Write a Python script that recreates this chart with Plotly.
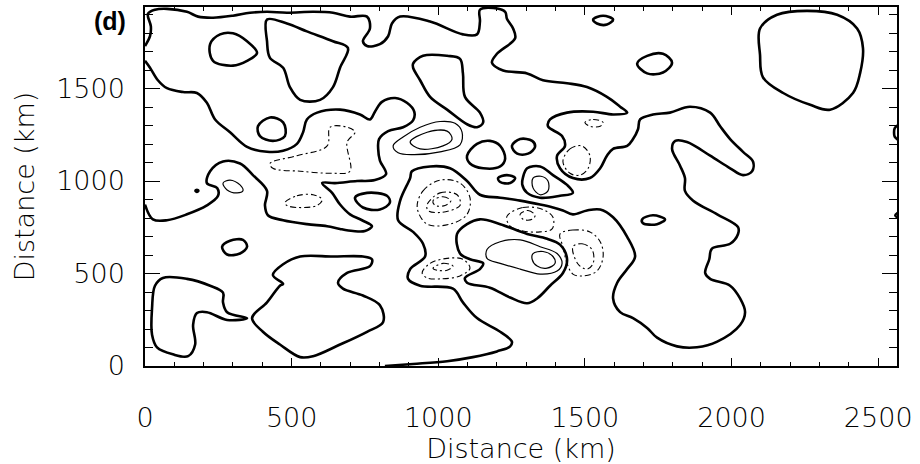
import plotly.graph_objects as go

# ---- contour polylines (km) ----
# thick solid contours (zero level)
A_x = [0,17,20,10,34,75,143,181,232,300,358,416,484,573,641,699,757,767,743,757,801,829,842,870,972,1084,1132,1142,1142,1187,1228,1234,1255,1262,1200,1183,1221,1303,1357,1439,1507,1575,1620,1644,1596,1528,1439,1381,1374,1422,1432,1405,1415,1459,1517,1552,1575,1596,1644,1664,1681,1688,1732,1790,1858,1927,1961,1995,2039,2073,2070,2039,1995,1927,1848,1808,1797,1824,1841,1841,1869,1951,2022,2022,1995,1933,1924,1910,1927,1995,2029,2046,2029,1951,1882,1814,1746,1712,1664,1620,1596,1610,1644,1671,1644,1596,1552,1507,1459,1425,1391,1347,1279,1211,1142,1098,1040,972,910,904,870,863,914,948,955,904,897,938,1050,1084,1132,1211,1251,1245,1200,1118,1030,914,818]
A_y = [1730,1783,1836,1904,1926,1931,1915,1889,1883,1894,1910,1915,1910,1915,1910,1889,1889,1825,1756,1730,1740,1783,1852,1889,1862,1793,1793,1862,1926,1936,1915,1878,1825,1772,1688,1640,1598,1582,1545,1529,1508,1455,1402,1370,1360,1375,1370,1333,1296,1243,1190,1137,1069,1016,1016,1069,1137,1174,1190,1227,1280,1333,1360,1370,1402,1370,1296,1227,1158,1106,1053,1032,1069,1137,1211,1217,1174,1084,1016,947,894,820,751,714,661,635,577,503,471,434,365,291,222,132,101,106,153,206,259,291,365,450,524,592,698,804,846,841,820,841,857,873,894,910,926,1000,1069,1079,1053,1016,894,788,725,661,592,524,471,434,418,344,259,185,132,106,79,48,26,11,0]

B_x = [0,17,44,75,130,177,211,239,290,348,416,471,518,539,552,587,665,733,767,784,808,853,893,918,914,880,829,798,795,801,822,784,723,648,604,638,665,699,740,774,750,709,665,621,552,471,419,409,416,368,324,266,222,211,246,249,211,143,75,27,0]
B_y = [1650,1613,1545,1502,1481,1476,1423,1333,1264,1185,1158,1164,1201,1264,1333,1370,1386,1360,1333,1375,1428,1449,1423,1375,1328,1291,1270,1227,1174,1111,1037,1005,1000,989,989,936,873,820,788,756,730,730,741,756,767,788,815,868,947,1032,1095,1106,1053,989,963,920,868,820,788,793,873]

L1_x = [348,280,266,266,222,143,61,34,24,24,41,95,147,171,164,177,211,280,348]
L1_y = [259,291,344,397,434,471,476,434,312,169,101,63,53,116,222,286,291,249,259]

L2_x = [365,402,460,529,573,665,757,812,801,743,675,658,689,767,774,743,641,529,471,436,471,460,416,365]
L2_y = [259,185,116,48,53,116,185,238,328,381,418,450,503,540,577,592,592,592,550,492,444,434,344,259]

TONGUE_x = [914,948,1030,1074,1084,1091,1142,1153,1132,1098,1030,972,938,914,914]
TONGUE_y = [1635,1677,1677,1661,1582,1455,1370,1317,1291,1307,1386,1455,1545,1613,1635]

S1_x = [222,256,300,348,382,348,300,232,222]
S1_y = [1740,1793,1799,1756,1693,1650,1624,1650,1740]

S2_x = [416,484,552,641,692,665,641,597,529,494,471,426,416,416]
S2_y = [1873,1852,1809,1756,1719,1613,1508,1439,1439,1508,1613,1666,1756,1873]

E1_x = [385,426,471,477,436,392,385]
E1_y = [1296,1344,1317,1243,1217,1243,1296]

E3_x = [263,290,334,348,324,280,263]
E3_y = [645,677,682,645,608,603,645]

E4_x = [716,757,825,835,801,743,716]
E4_y = [910,936,920,883,846,857,910]

DOT_x = [172,177,182,177,172]
DOT_y = [947,953,947,941,947]

P_x = [1064,1098,1142,1211,1303,1371,1415,1439,1425,1381,1337,1303,1245,1176,1098,1091,1142,1153,1108,1074,1064]
P_y = [714,767,793,767,714,688,656,577,503,434,365,339,370,423,450,476,524,555,577,608,714]

Q_x = [1289,1303,1347,1391,1439,1459,1415,1347,1303,1286,1289]
Q_y = [1021,1069,1079,1032,979,936,920,910,936,983,1021]

L3_x = [1098,1132,1176,1211,1228,1211,1153,1108,1098]
L3_y = [1137,1201,1217,1190,1121,1079,1069,1095,1137]

L4_x = [1251,1279,1320,1330,1306,1269,1251]
L4_y = [1190,1227,1217,1185,1148,1148,1190]

E5_x = [1204,1234,1262,1245,1211,1204]
E5_y = [1016,1032,1016,989,995,1016]

E6_x = [1678,1712,1766,1797,1766,1712,1678]
E6_y = [1635,1677,1688,1640,1587,1582,1635]

E7_x = [1528,1562,1596,1575,1541,1528]
E7_y = [1873,1894,1873,1846,1852,1873]

E8_x = [1695,1732,1773,1746,1698,1695]
E8_y = [793,815,793,767,772,793]

R_x = [2097,2155,2257,2360,2428,2448,2438,2414,2336,2268,2176,2107,2097,2097]
R_y = [1825,1899,1920,1899,1825,1719,1582,1476,1386,1412,1476,1561,1682,1825]

RB1_x = [2570,2556,2554,2556,2570]
RB1_y = [1305,1285,1262,1240,1220]

RB2_x = [2570,2558,2570]
RB2_y = [832,815,798]

# thin solid contours (positive levels)
E2_x = [266,290,324,334,314,280,266]
E2_y = [989,1005,979,947,936,952,989]

T1_x = [846,880,938,1006,1057,1081,1074,1006,914,863,846]
T1_y = [1190,1238,1291,1322,1312,1264,1196,1158,1143,1153,1190]

T2_x = [904,962,1030,1047,1016,938,904]
T2_y = [1211,1264,1270,1227,1190,1174,1211]

QI_x = [1323,1350,1374,1374,1347,1323,1323]
QI_y = [1016,1026,1000,947,926,963,1016]

P1_x = [1166,1211,1279,1347,1405,1422,1405,1347,1279,1211,1166,1166]
P1_y = [630,672,682,645,608,555,513,497,524,555,582,630]

P2_x = [1323,1357,1391,1398,1371,1337,1320,1323]
P2_y = [608,619,592,555,529,540,577,608]

# dash-dot contours (negative levels)
D1_x = [426,518,621,631,689,716,689,699,641,529,436,426]
D1_y = [1095,1137,1190,1291,1291,1264,1211,1053,1042,1053,1069,1095]

D2_x = [477,518,573,604,587,518,484,477]
D2_y = [883,920,926,899,868,857,868,883]

N1a_x = [928,948,1006,1074,1108,1098,1040,962,928]
N1a_y = [857,947,1005,989,910,820,767,767,857]
N1b_x = [962,1006,1064,1074,1006,965,962]
N1b_y = [873,936,926,868,830,841,873]
N1c_x = [982,1016,1043,1023,989,982]
N1c_y = [894,915,894,868,868,894]

N2a_x = [945,972,1030,1084,1108,1074,1006,962,945]
N2a_y = [503,555,582,577,529,487,471,476,503]
N2b_x = [982,1016,1050,1030,996,982]
N2b_y = [529,555,540,518,518,529]

N3a_x = [1415,1459,1517,1552,1562,1541,1494,1459,1439,1425,1415]
N3a_y = [714,735,725,672,592,513,487,497,555,645,714]
N3b_x = [1459,1490,1524,1528,1507,1477,1459]
N3b_y = [645,661,630,555,524,550,645]

N4a_x = [1234,1289,1357,1391,1388,1347,1289,1245,1234]
N4a_y = [809,857,846,804,741,725,730,756,809]
N4b_x = [1279,1306,1330,1320,1289,1279]
N4b_y = [820,841,815,793,793,820]

D3_x = [1500,1528,1562,1552,1517,1500]
D3_y = [1317,1333,1317,1296,1296,1317]

D4_x = [1425,1449,1490,1517,1511,1483,1449,1425]
D4_y = [1106,1174,1190,1137,1069,1032,1042,1106]

thick = [(A_x, A_y), (B_x, B_y), (L1_x, L1_y), (L2_x, L2_y), (TONGUE_x, TONGUE_y),
         (S1_x, S1_y), (S2_x, S2_y), (E1_x, E1_y), (E3_x, E3_y), (E4_x, E4_y),
         (DOT_x, DOT_y), (P_x, P_y), (Q_x, Q_y), (L3_x, L3_y), (L4_x, L4_y),
         (E5_x, E5_y), (E6_x, E6_y), (E7_x, E7_y), (E8_x, E8_y), (R_x, R_y),
         (RB1_x, RB1_y), (RB2_x, RB2_y)]
thin = [(E2_x, E2_y), (T1_x, T1_y), (T2_x, T2_y), (QI_x, QI_y), (P1_x, P1_y), (P2_x, P2_y)]
dashed = [(D1_x, D1_y), (D2_x, D2_y), (N1a_x, N1a_y), (N1b_x, N1b_y), (N1c_x, N1c_y),
          (N2a_x, N2a_y), (N2b_x, N2b_y), (N3a_x, N3a_y), (N3b_x, N3b_y),
          (N4a_x, N4a_y), (N4b_x, N4b_y), (D3_x, D3_y), (D4_x, D4_y)]

fig = go.Figure()


def add(xs, ys, width, dash="solid"):
    fig.add_trace(go.Scatter(x=xs, y=ys, mode="lines",
                             line=dict(color="black", width=width, dash=dash,
                                       shape="spline", smoothing=1.0),
                             hoverinfo="skip", showlegend=False))


for xs, ys in thick:
    add(xs, ys, 2.6)
for xs, ys in thin:
    add(xs, ys, 1.2)
for xs, ys in dashed:
    add(xs, ys, 1.1, "6px,3px,2px,3px")

tickfont = dict(family="DejaVu Sans", size=27, color="black", weight=200)
titlefont = dict(family="DejaVu Sans", size=27, color="black", weight=200)

fig.update_layout(
    width=920, height=464,
    margin=dict(l=145, r=23, t=5, b=92),
    paper_bgcolor="white", plot_bgcolor="white",
    xaxis=dict(range=[0, 2564], tickmode="linear", tick0=0, dtick=500,
               ticks="inside", ticklen=8, tickwidth=1, tickcolor="black",
               minor=dict(ticks="inside", ticklen=4, dtick=100, tickcolor="black"),
               showline=True, linecolor="black", linewidth=1.5, mirror="allticks",
               showgrid=False, zeroline=False, tickfont=tickfont,
               ticklabelstandoff=27,
               title=dict(text="Distance (km)", font=titlefont, standoff=7)),
    yaxis=dict(range=[0, 1941], tickmode="linear", tick0=0, dtick=500,
               ticks="inside", ticklen=15, tickwidth=1, tickcolor="black",
               minor=dict(ticks="inside", ticklen=8, dtick=100, tickcolor="black"),
               showline=True, linecolor="black", linewidth=1.5, mirror="allticks",
               showgrid=False, zeroline=False, tickfont=tickfont,
               ticklabelstandoff=13,
               title=dict(text="Distance (km)", font=titlefont, standoff=14)),
    annotations=[dict(text="<b>(d)</b>", xref="paper", yref="paper",
                      x=-0.047, y=0.962, xanchor="center", yanchor="middle",
                      showarrow=False,
                      font=dict(family="Liberation Sans", size=25, color="black"))],
)

fig.write_html("out.html")
